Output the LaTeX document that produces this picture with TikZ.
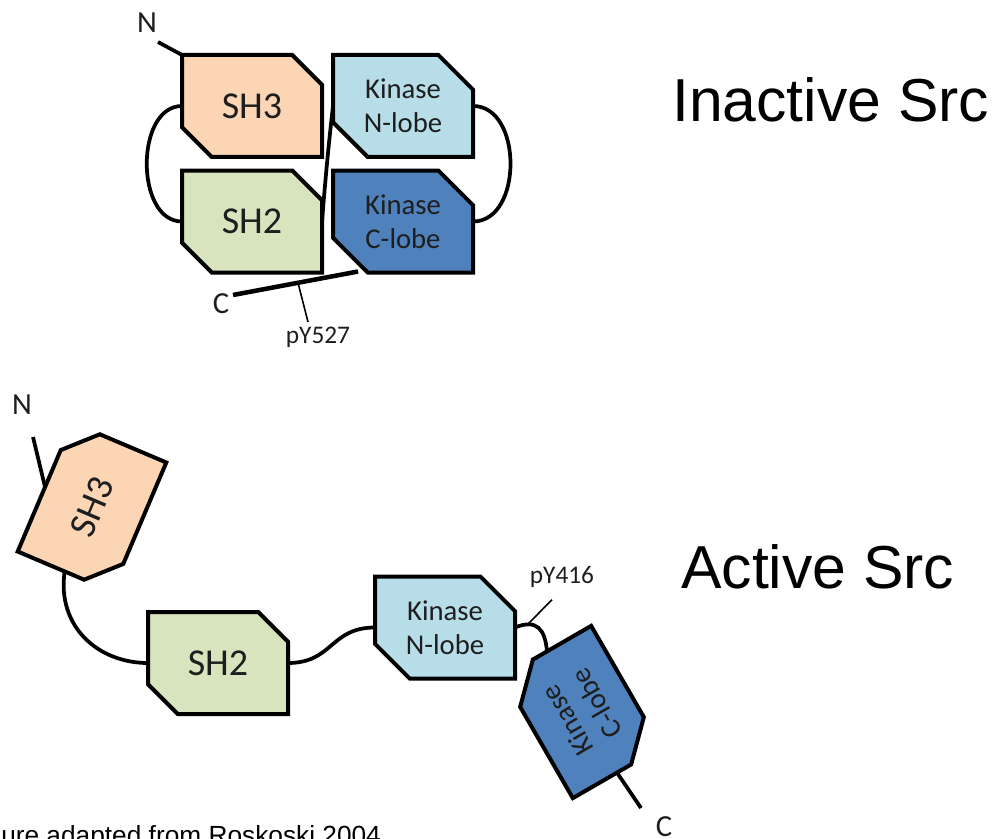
\documentclass[tikz,border=0pt]{standalone}
\usepackage{fontspec}
\setmainfont{Carlito}
\newfontfamily\arialfont{Liberation Sans}
\usetikzlibrary{shapes.misc,calc}

\definecolor{shthreefill}{RGB}{252,213,180}
\definecolor{shtwofill}{RGB}{215,228,189}
\definecolor{nlobefill}{RGB}{183,222,232}
\definecolor{clobefill}{RGB}{79,129,189}
\definecolor{txtgray}{RGB}{30,30,30}

\tikzset{
  dombox/.style={chamfered rectangle, chamfered rectangle corners={north east,south west},
    chamfered rectangle sep=13pt, minimum width=105pt, minimum height=76.5pt,
    inner sep=0pt, outer sep=0pt, draw=black, line width=3pt, align=center, text=txtgray},
  bigtxt/.style={font=\fontsize{28.5}{33}\selectfont},
  kintxt/.style={font=\fontsize{21.5}{25.5}\selectfont},
  term/.style={font=\fontsize{23}{27}\selectfont, inner sep=0pt, text=txtgray},
  site/.style={font=\fontsize{19}{23}\selectfont, inner sep=1pt, anchor=base, text=txtgray},
  title/.style={font=\arialfont\fontsize{45.5}{54}\selectfont, anchor=base west, inner sep=0pt},
  linker/.style={line width=2.8pt},
  tick/.style={line width=1.2pt}
}

\begin{document}
\begin{tikzpicture}[x=0.75pt,y=-0.75pt]
\useasboundingbox (0,0) rectangle (1002,838);

% inactive Src
\node[dombox,fill=shthreefill,bigtxt] (sh3) at (252,106) {SH3};
\node[dombox,fill=shtwofill,bigtxt] (sh2) at (252,221.5) {SH2};
\node[dombox,fill=nlobefill,kintxt] (nlobe) at (403,106) {Kinase\\N-lobe};
\node[dombox,fill=clobefill,kintxt] (clobe) at (403,221.5) {Kinase\\C-lobe};

\node[term] (ntop) at (147,23) {N};
\coordinate (ntopend) at (158,42);
\draw[linker] (ntopend) -- ($(sh3.center)+(-70,-51)$);
\draw[linker] (sh3.west) .. controls +(-47,0) and +(-47,0) .. (sh2.west);
\draw[linker] (nlobe.east) .. controls +(50,0) and +(50,0) .. (clobe.east);
\draw[linker] (sh2.east) .. controls +(4,-50) and +(-4,35) .. (nlobe.west);

\coordinate (ctopstart) at ($(clobe.center)+(-45,50)$);
\node[term] (ctop) at (221,304) {C};
\coordinate (ctopend) at (233,295);
\draw[line width=3.4pt] (ctopstart) -- (ctopend);
\node[site] (py527) at (318,343) {pY527};
\draw[tick] ($(ctopstart)!0.48!(ctopend)$) -- ($(py527.north)+(-10,-3)$);

\node[title] (inact) at (672,122) {Inactive Src};

% active Src
\node[dombox,fill=shthreefill,bigtxt,rotate=67] (sh3b) at (92,507) {SH3};
\node[dombox,fill=shtwofill,bigtxt] (sh2b) at (218,663) {SH2};
\node[dombox,fill=nlobefill,kintxt] (nlobeb) at (445,627.5) {Kinase\\N-lobe};
\node[dombox,fill=clobefill,kintxt,rotate=120] (clobeb) at (582,712) {Kinase\\C-lobe};

\node[term] (nbot) at (22,405) {N};
\coordinate (nbotend) at (33,437);
\draw[linker] (sh3b.north) -- (nbotend);
\draw[linker] (sh3b.west) .. controls +(-8,55) and +(-50,0) .. (sh2b.west);
\draw[linker] (sh2b.east) .. controls +(45,0) and +(-45,0) .. (nlobeb.west);
\draw[linker] (nlobeb.east) .. controls +(22,-9) and +(-2,-22) .. (clobeb.east);

\coordinate (p416) at (528,624);
\node[site] (py416) at (562,583) {pY416};
\draw[tick] (p416) -- ($(py416.south)+(-10,11)$);

\node[term] (cbot) at (664,827) {C};
\coordinate (cbotend) at (641,808);
\draw[linker] (clobeb.west) -- (cbotend);

\node[title] (act) at (681,588) {Active Src};

\node[font=\arialfont\fontsize{19.7}{24}\selectfont, anchor=base west, inner sep=0pt] (fig) at (1,844) {ure adapted from Roskoski 2004};
\end{tikzpicture}
\end{document}
